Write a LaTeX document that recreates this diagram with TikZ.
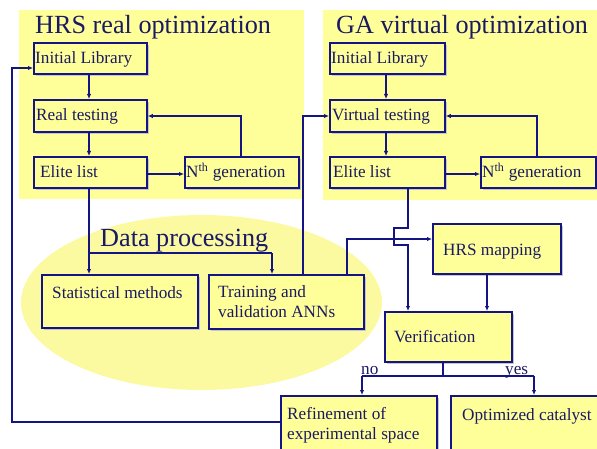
\documentclass[tikz,border=0pt]{standalone}
\usepackage{fontspec}
\setmainfont{Liberation Serif}
\usetikzlibrary{shadows,arrows.meta}
\definecolor{navy}{RGB}{20,20,130}
\definecolor{txt}{RGB}{25,25,100}
\definecolor{panel}{RGB}{255,255,153}
\definecolor{ell}{RGB}{252,250,160}
\tikzset{
  box/.style={draw=navy, line width=1.8pt, fill=panel, anchor=north west, inner sep=0pt,
    drop shadow={shadow xshift=2.5pt, shadow yshift=-2.5pt, fill=black!22, opacity=1}},
  lbl/.style={anchor=base west, inner sep=0pt, text=txt, font=\fontsize{17.2}{20}\selectfont, align=left},
  ttl/.style={anchor=base west, inner sep=0pt, text=txt, font=\fontsize{26.2}{30}\selectfont},
  conn/.style={draw=navy, line width=1.4pt},
  arr/.style={conn, -{Latex[length=5pt,width=4.5pt]}},
}
\begin{document}
\begin{tikzpicture}[x=1pt,y=-1pt]
\useasboundingbox (0,0) rectangle (597,449);
% panels
\fill[panel] (19,10) rectangle (304,199);
\fill[panel] (323,10) rectangle (597,200);
\fill[ell] (201.5,302.5) ellipse [x radius=180.5, y radius=87.5];
% titles
\node[ttl] (t1) at (35,34) {HRS real optimization};
\node[ttl] (t2) at (336,34) {GA virtual optimization};
\node[ttl] (t3) at (100,247) {Data processing};
% left boxes
\node[box, minimum width=113, minimum height=31] (L1) at (33,42) {};
\node[box, minimum width=113, minimum height=32] (L2) at (33,99) {};
\node[box, minimum width=113, minimum height=31] (L3) at (33,156) {};
\node[box, minimum width=114, minimum height=31] (L4) at (184,156) {};
% right boxes
\node[box, minimum width=115, minimum height=31] (R1) at (329,42) {};
\node[box, minimum width=115, minimum height=32] (R2) at (329,99) {};
\node[box, minimum width=115, minimum height=31] (R3) at (329,156) {};
\node[box, minimum width=115, minimum height=31] (R4) at (480,156) {};
% lower boxes
\node[box, minimum width=156, minimum height=53] (S) at (41,274) {};
\node[box, minimum width=155, minimum height=54] (T) at (208,274) {};
\node[box, minimum width=128, minimum height=50] (H) at (432,223) {};
\node[box, minimum width=127, minimum height=50] (V) at (384,311) {};
\node[box, minimum width=156, minimum height=58] (F) at (280,395) {};
\node[box, minimum width=160, minimum height=58] (O) at (450,395) {};
% labels
\node[lbl] (l1) at (35,64) {Initial Library};
\node[lbl] (l2) at (36,121) {Real testing};
\node[lbl] (l3) at (40,178) {Elite list};
\node[lbl] (l4) at (186,178) {N\textsuperscript{th} generation};
\node[lbl] (r1) at (331,64) {Initial Library};
\node[lbl] (r2) at (332,121) {Virtual testing};
\node[lbl] (r3) at (333,178) {Elite list};
\node[lbl] (r4) at (482,178) {N\textsuperscript{th} generation};
\node[lbl] (s1) at (52,298) {Statistical methods};
\node[lbl, anchor=north west] (tr1) at (218,285) {Training and\\validation ANNs};
\node[lbl] (h1) at (443,255) {HRS mapping};
\node[lbl] (v1) at (394,342) {Verification};
\node[lbl, anchor=north west] (f1) at (287,407) {Refinement of\\experimental space};
\node[lbl] (o1) at (462,420) {Optimized catalyst};
\node[lbl] (no) at (361,374) {no};
\node[lbl] (yes) at (505,374) {yes};
% coordinates
\coordinate (c1) at (89,253);
\coordinate (c2) at (272,253);
\coordinate (c3) at (303,116);
\coordinate (c4) at (347,239);
\coordinate (c5) at (443,376);
\coordinate (c6) at (362,376);
\coordinate (c7) at (534,376);
\coordinate (c8) at (12,422);
\coordinate (c9) at (12,68);
% left panel connectors
\draw[arr] (L1.south -| 89,0) -- (L2.north -| 89,0);
\draw[arr] (L2.south -| 89,0) -- (L3.north -| 89,0);
\draw[arr] (L3.east |- 0,174) -- (L4.west |- 0,174);
\draw[arr] (L4.north -| 241,0) -- (241,116) -- (L2.east |- 0,116);
% right panel connectors
\draw[arr] (R1.south -| 386,0) -- (R2.north -| 386,0);
\draw[arr] (R2.south -| 386,0) -- (R3.north -| 386,0);
\draw[arr] (R3.east |- 0,174) -- (R4.west |- 0,174);
\draw[arr] (R4.north -| 537,0) -- (537,116) -- (R2.east |- 0,116);
% data processing
\draw[conn] (L3.south -| 89,0) -- (c1) -- (c2);
\draw[arr] (c1) -- (S.north -| 89,0);
\draw[arr] (c2) -- (T.north -| 272,0);
\draw[arr] (T.north -| 303,0) -- (c3) -- (R2.west |- c3);
\draw[arr] (T.north -| 347,0) -- (c4) -- (H.west |- c4);
\draw[arr] (R3.south -| 408,0) -- (408,228) -- (394,228) -- (394,245) -- (408,245) -- (V.north -| 408,0);
\draw[arr] (H.south -| 487,0) -- (V.north -| 487,0);
\draw[conn] (V.south -| c5) -- (c5);
\draw[conn] (c6) -- (c7);
\draw[arr] (c6) -- (F.north -| c6);
\draw[arr] (c7) -- (O.north -| c7);
\draw[arr] (F.west |- 0,422) -- (c8) -- (c9) -- (L1.west |- c9);
\end{tikzpicture}
\end{document}
